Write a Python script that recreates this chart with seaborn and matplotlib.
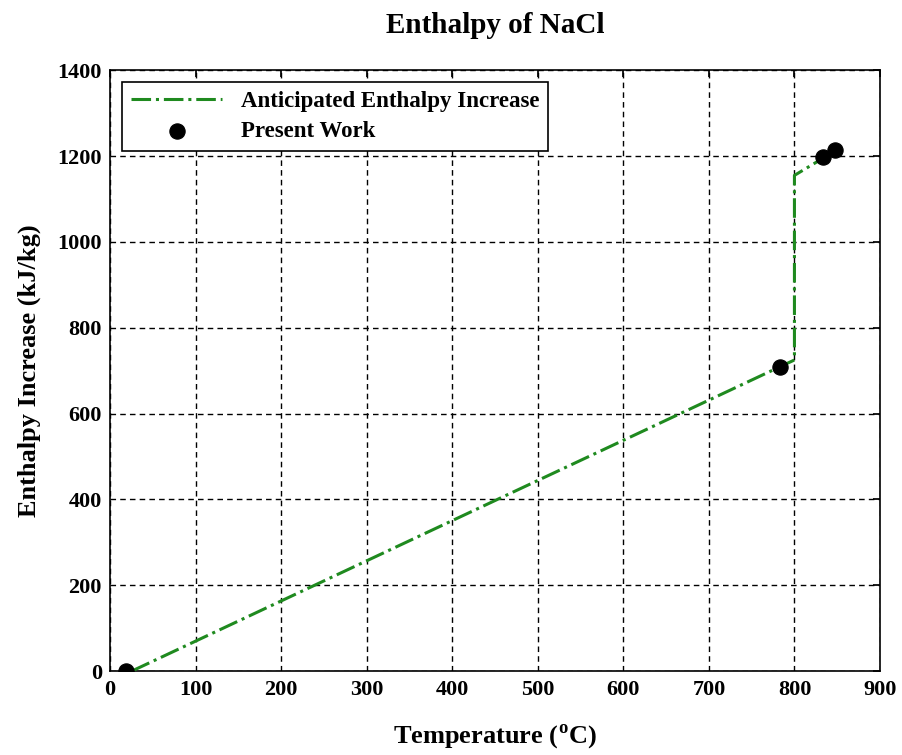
import matplotlib
matplotlib.use("Agg")
import matplotlib.pyplot as plt
import seaborn as sns
import pandas as pd

# Anticipated enthalpy curve
line_temp = [25, 800, 800, 850]
line_enth = [0, 725, 1155, 1215]
# Present work measurements
pts_temp = [18, 783, 833, 848]
pts_enth = [0, 708, 1197, 1213]

xticks = [0, 100, 200, 300, 400, 500, 600, 700, 800, 900]
yticks = [0, 200, 400, 600, 800, 1000, 1200, 1400]

sns.set_theme(style="white")
plt.rcParams['font.family'] = ['Liberation Serif', 'DejaVu Serif']
plt.rcParams['font.weight'] = 'bold'
plt.rcParams['text.color'] = 'black'
plt.rcParams['axes.labelcolor'] = 'black'

fig = plt.figure(figsize=(9.03, 7.55), dpi=100)
ax = fig.add_axes([0.122, 0.111, 0.8525, 0.796])

df_line = pd.DataFrame({"T": line_temp, "H": line_enth})
df_pts = pd.DataFrame({"T": pts_temp, "H": pts_enth})

sns.lineplot(data=df_line, x="T", y="H", ax=ax, color="#1f8a1f", lw=2.2,
             linestyle="-.", sort=False, estimator=None,
             label="Anticipated Enthalpy Increase", zorder=3)
sns.scatterplot(data=df_pts, x="T", y="H", ax=ax, color="black", s=120,
                edgecolor="black", label="Present Work", zorder=4)

ax.set_xlim(0, 900)
ax.set_ylim(0, 1400)
ax.set_xticks(xticks)
ax.set_yticks(yticks)
ax.grid(True, color="black", linestyle=(0, (4, 3)), linewidth=1.0)
for s in ax.spines.values():
    s.set_color("black")
    s.set_linewidth(1.2)
ax.tick_params(direction="in", length=5, top=True, right=True, labelsize=16,
               colors="black", pad=6)
for lab in ax.get_xticklabels() + ax.get_yticklabels():
    lab.set_fontweight("bold")

ax.set_xlabel("Temperature ($^{\\mathregular{o}}$C)", fontsize=19, fontweight="bold", labelpad=16)
ax.set_ylabel("Enthalpy Increase (kJ/kg)", fontsize=19, fontweight="bold", labelpad=12)
ax.set_title("Enthalpy of NaCl", fontsize=21, fontweight="bold", pad=27)

leg = ax.legend(loc="upper left", fontsize=16.5, frameon=True, fancybox=False,
                edgecolor="black", framealpha=1, borderaxespad=0.5, handlelength=4,
                labelspacing=0.4)
leg.get_frame().set_linewidth(1.2)
for t in leg.get_texts():
    t.set_fontweight("bold")

fig.savefig("out.png", dpi=100)
